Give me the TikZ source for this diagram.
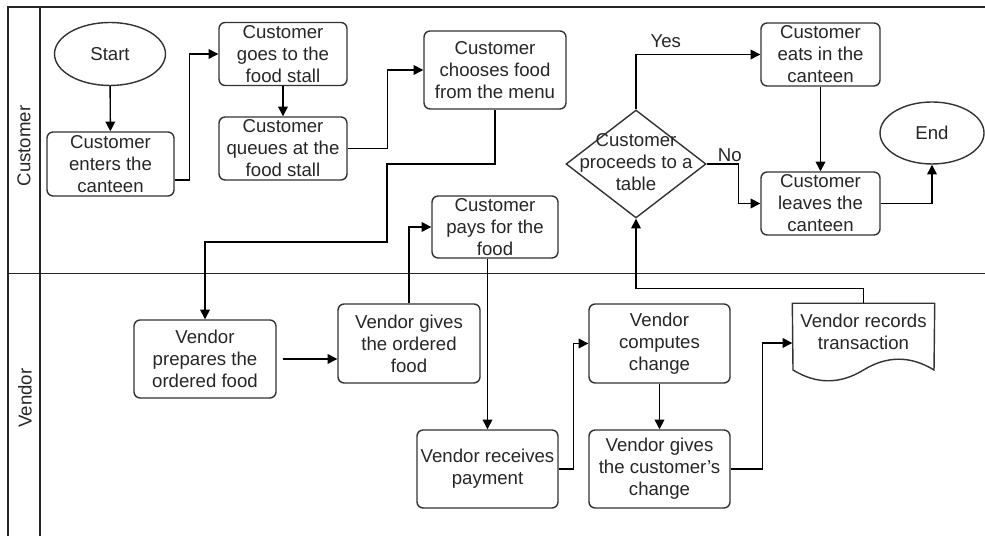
\documentclass[tikz,border=0pt]{standalone}
\usepackage{fontspec}
\setmainfont{Liberation Sans}
\usetikzlibrary{arrows.meta,shapes.geometric}

\begin{document}
\begin{tikzpicture}[every node/.style={font=\fontsize{10.6}{12.5}\selectfont, text=black!85},
        proc/.style={draw=black!80, line width=0.8pt, rounded corners=3.5pt, align=center, inner sep=0pt, minimum width=2.56cm, minimum height=1.26cm},
        vproc/.style={proc, minimum width=2.84cm, minimum height=1.56cm},
        term/.style={draw=black!80, line width=0.8pt, ellipse, inner sep=0pt, minimum width=2.22cm, minimum height=1.26cm},
        decision/.style={draw=black!80, line width=0.8pt, diamond, inner sep=0pt, minimum width=2.8cm, minimum height=2.16cm},
        flow/.style={line width=0.8pt, -{Triangle[length=5.5pt,width=5.5pt]}},
        lane/.style={line width=0.8pt, draw=black!85}]
        \useasboundingbox (0,0) rectangle (19.7,10.72);
        \draw[lane] (19.7,10.58) -- (0.16,10.58) -- (0.16,0);
        \draw[lane] (0.8,10.58) -- (0.8,0);
        \draw[lane] (0.16,5.25) -- (19.7,5.25);
        \node[rotate=90] (customerlane) at (0.48,7.8) {Customer};
        \node[rotate=90] (vendorlane) at (0.5,2.76) {Vendor};

        \node[term] (start) at (2.2,9.64) {Start};
        \node[proc, minimum width=2.54cm, minimum height=1.28cm] (enters) at (2.21,7.44) {Customer\\enters the\\canteen};
        \node[proc] (goesto) at (5.66,9.64) {Customer\\goes to the\\food stall};
        \node[proc] (queues) at (5.66,7.75) {Customer\\queues at the\\food stall};
        \node[vproc] (chooses) at (9.9,9.32) {Customer\\chooses food\\from the menu};
        \node[decision] (proceeds) at (12.72,7.44) {\makebox[0pt]{\begin{tabular}{@{}c@{}}Customer\\proceeds to a\\table\end{tabular}}};
        \node[proc, minimum width=2.38cm] (eats) at (16.41,9.63) {Customer\\eats in the\\canteen};
        \node[proc, minimum width=2.38cm] (leaves) at (16.41,6.65) {Customer\\leaves the\\canteen};
        \node[term, minimum width=2.08cm, minimum height=1.24cm] (finish) at (18.64,8.06) {End};
        \node[proc, minimum width=2.52cm, minimum height=1.24cm] (pays) at (9.9,6.18) {Customer\\pays for the\\food};

        \node[vproc] (prepares) at (4.1,3.54) {Vendor\\prepares the\\ordered food};
        \node[vproc, minimum height=1.58cm] (givesfood) at (8.18,3.85) {Vendor gives\\the ordered\\food};
        \node[vproc, minimum width=2.82cm] (receives) at (9.75,1.34) {Vendor receives\\payment};
        \node[vproc, minimum width=2.82cm, minimum height=1.58cm] (computes) at (13.19,3.85) {Vendor\\computes\\change};
        \node[vproc, minimum width=2.82cm] (giveschange) at (13.19,1.34) {Vendor gives\\the customer's\\change};
        \node[vproc, draw=none, minimum width=2.82cm] (records) at (17.27,3.86) {\raisebox{0.18cm}[\height][\depth]{\begin{tabular}{@{}c@{}}Vendor records\\transaction\end{tabular}}};
        \draw[draw=black!80, line width=0.8pt] (records.north west) -- (records.north east) -- (18.68,3.32) .. controls (18.21,3.608) and (17.74,3.608) .. (17.27,3.32) .. controls (16.80,3.032) and (16.33,3.032) .. (15.86,3.32) -- cycle;

        \draw[flow] (start) -- (enters);
        \draw[flow] ([yshift=-0.32cm]enters.east) -- ++(0.3,0) |- (goesto.west);
        \draw[flow] (goesto) -- (queues);
        \draw[flow] (queues.east) -- ++(0.8,0) |- (chooses.west);
        \draw[flow] (chooses.south) |- (7.74,7.44) -- (7.74,5.88) -| (prepares.north);
        \draw[flow] ([xshift=0.12cm]prepares.east) -- (prepares.east -| givesfood.west);
        \draw[flow] (givesfood.north) |- (pays.west);
        \draw[flow] (pays.south -| receives.north) -- (receives.north);
        \draw[flow] (receives.east) -- ++(0.3,0) |- (computes.west);
        \draw[flow] (computes) -- (giveschange);
        \draw[flow] (giveschange.east) -- ++(0.64,0) |- (records.west);
        \draw[flow] (records.north) -- ++(0,0.3) -| (proceeds.south);
        \draw[flow] (proceeds.north) |- (eats.west) node[pos=0.62, above] (yeslabel) {Yes};
        \draw[flow] (proceeds.east) -- ++(0.64,0) node[pos=0.72, above, inner sep=1pt] (nolabel) {No} |- (leaves.west);
        \draw[flow] (eats) -- (leaves);
        \draw[flow] (leaves.east) -| (finish.south);
\end{tikzpicture}
\end{document}
